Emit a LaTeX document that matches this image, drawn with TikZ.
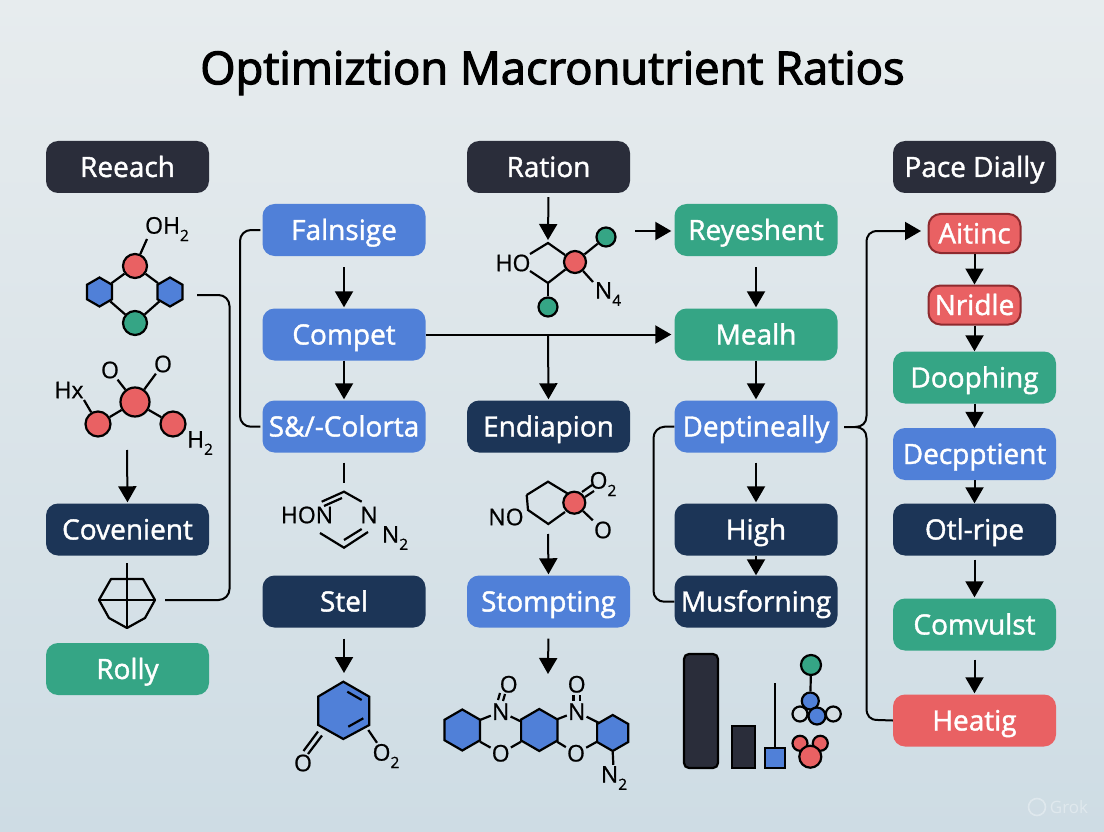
\documentclass[tikz,border=0pt]{standalone}
\usepackage{fontspec}
\setmainfont{Open Sans}
\newfontfamily\boxfont[FakeBold=1.4]{Open Sans}
\newfontfamily\titlefont[FakeBold=2.6]{Open Sans}
\newfontfamily\chemfont[FakeBold=0.8]{Open Sans}
\usetikzlibrary{arrows.meta,shapes.geometric}
\definecolor{bgtop}{HTML}{E7ECEE}
\definecolor{bgbot}{HTML}{CEDCE4}
\definecolor{inkc}{HTML}{2A2D3A}
\definecolor{navyc}{HTML}{1C3557}
\definecolor{bluec}{HTML}{5080D8}
\definecolor{greenc}{HTML}{35A585}
\definecolor{redc}{HTML}{E96163}
\definecolor{redd}{HTML}{8E2A2E}
\definecolor{greyc}{HTML}{D5DEE3}
\newcommand{\subn}[1]{\raisebox{-.32em}{\fontsize{15.5}{15.5}\selectfont #1}}
\newcommand{\hexa}[4]{\draw[bond,fill=#4] ({#1},{#2-#3}) -- ++({.866*#3},{.5*#3}) -- ++(0,{#3}) -- ++({-.866*#3},{.5*#3}) -- ++({-.866*#3},{-.5*#3}) -- ++(0,{-#3}) -- cycle;}
\tikzset{
 boxb/.style={rounded corners=12pt,inner sep=0pt,minimum width=163pt,minimum height=52pt,text=white,font=\boxfont\fontsize{28}{30}\selectfont,anchor=center,text height=24pt,text depth=4pt},
 inkb/.style={boxb,fill=inkc},
 navyb/.style={boxb,fill=navyc},
 blueb/.style={boxb,fill=bluec},
 greenb/.style={boxb,fill=greenc},
 redb/.style={boxb,fill=redc},
 smallred/.style={boxb,fill=redc,draw=redd,line width=2pt,minimum width=92pt,minimum height=39pt},
 link/.style={draw=black,line width=2pt,rounded corners=11pt},
 arr/.style={draw=black,line width=2pt,-{Triangle[width=18pt,length=16pt]}},
 bond/.style={draw=black,line width=2.2pt},
 atom/.style={circle,draw=black,line width=2.2pt,inner sep=0pt},
 chem/.style={inner sep=1pt,font=\chemfont\fontsize{23}{24}\selectfont,text=black},
 hexn/.style={regular polygon,regular polygon sides=6,shape border rotate=30,draw=black,line width=2.2pt,inner sep=0pt,fill=bluec,minimum size=29pt},
}
\begin{document}
\begin{tikzpicture}[x=1pt,y=-1pt]
\useasboundingbox (0,0) rectangle (1104,832);
\shade[top color=bgtop,bottom color=bgbot,shading angle=0] (0,0) rectangle (1104,832);
\node[font=\titlefont\fontsize{45.3}{48}\selectfont,text=black,inner sep=0pt] (title) at (552.5,73) {Optimiztion Macronutrient Ratios};
% boxes
\node[inkb] (reeach) at (127.5,167) {Reeach};
\node[inkb] (ration) at (548.5,167) {Ration};
\node[inkb] (pace) at (974.5,167) {Pace Dially};
\node[blueb] (falnsige) at (344,230) {Falnsige};
\node[blueb] (compet) at (344,334.5) {Compet};
\node[blueb] (colorta) at (344,426.5) {S\&/-Colorta};
\node[navyb] (stel) at (344,601.5) {Stel};
\node[navyb] (endia) at (548.5,426.5) {Endiapion};
\node[blueb] (stomp) at (548.5,601.5) {Stompting};
\node[greenb] (reyes) at (756,230) {Reyeshent};
\node[greenb] (mealh) at (756,334.5) {Mealh};
\node[blueb] (dept) at (756,426.5) {Deptineally};
\node[navyb] (high) at (756,529.5) {High};
\node[navyb] (musf) at (756,601.5) {Musforning};
\node[smallred] (aitinc) at (974.5,233.5) {Aitinc};
\node[smallred] (nridle) at (974.5,305) {Nridle};
\node[greenb] (dooph) at (974.5,377.5) {Doophing};
\node[blueb] (decp) at (974.5,454) {Decpptient};
\node[navyb] (otl) at (974.5,529.5) {Otl-ripe};
\node[greenb] (comv) at (974.5,624.5) {Comvulst};
\node[redb] (heat) at (974.5,720.5) {Heatig};
\node[navyb] (coven) at (127.5,529.5) {Covenient};
\node[greenb] (rolly) at (127.5,669) {Rolly};
% free ends
\coordinate (m1end) at (197,295);
\coordinate (m9end) at (165,600);
\coordinate (m2end) at (127,450);
\coordinate (m3top) at (548,240);
\coordinate (m3right) at (635,231);
\coordinate (m4top) at (344,483);
\coordinate (m5bot) at (548,534);
\coordinate (m6top) at (344,673);
\coordinate (m7top) at (548,674);
\coordinate (fork) at (548,335);
\coordinate (dout) at (844,427);
% connectors
\draw[arr,shorten <=4pt] (ration.south) -- (m3top);
\draw[arr,shorten <=11pt,shorten >=1pt] (falnsige.south) -- (compet.north);
\draw[arr,shorten >=1pt] (compet.south) -- (colorta.north);
\draw[arr,shorten >=3pt] (compet.east) -- (mealh.west);
\draw[arr,shorten >=1pt] (fork) -- (endia.north);
\draw[link] ([xshift=-2pt]falnsige.west) -- (240,230) -- (240,427) -- ([xshift=-2pt]colorta.west);
\draw[link] (m1end) -- (229.5,295) -- (229.5,600) -- (m9end);
\draw[arr,shorten >=1pt] (m2end) -- (coven.north);
\draw[arr,shorten >=3pt] (m3right) -- (reyes.west |- m3right);
\draw[arr,shorten <=11pt,shorten >=1pt] (reyes.south) -- (mealh.north);
\draw[arr,shorten >=1pt] (mealh.south) -- (dept.north);
\draw[arr,shorten <=10pt,shorten >=1pt] (dept.south) -- (high.north);
\draw[arr,shorten >=0pt] (high.south) -- (musf.north);
\draw[link] (dept.west) -- (653.5,427) -- (653.5,602) -- (musf.west);
\draw[line width=2pt,draw=black,-{Triangle[width=18pt,length=16pt]}] (dout) -- (855,427) .. controls (862,427) and (866.5,423) .. (866.5,416) -- (866.5,243) .. controls (866.5,235) and (870,231) .. (878,231) -- (921,231);
\draw[line width=2pt,draw=black] (855,427) .. controls (862,427) and (866.5,431) .. (866.5,438) -- (866.5,708) .. controls (866.5,716) and (870,720) .. (878,720) -- (heat.west);
\draw[arr] (aitinc.south) -- (nridle.north);
\draw[arr] (nridle.south) -- (dooph.north);
\draw[arr] (dooph.south) -- (decp.north);
\draw[arr] (decp.south) -- (otl.north);
\draw[arr,shorten <=4pt,shorten >=1pt] (otl.south) -- (comv.north);
\draw[arr,shorten <=9pt,shorten >=1pt] (comv.south) -- (heat.north);
\draw[bond,shorten <=10pt] (colorta.south) -- (m4top);
\draw[arr,shorten >=1pt] (m5bot) -- (stomp.north);
\draw[arr,shorten <=11pt] (stel.south) -- (m6top);
\draw[arr,shorten <=11pt] (stomp.south) -- (m7top);
% molecule 1
\node[atom,fill=redc,minimum size=24pt] (a1) at (135,266) {};
\node[hexn] (a2) at (99.5,292) {};
\node[hexn] (a3) at (170,292) {};
\node[atom,fill=greenc,minimum size=24pt] (a4) at (135,323) {};
\node[chem] (a5) at (167,229) {OH\subn{2}};
\draw[bond] (a1) -- (a2); \draw[bond] (a1) -- (a3); \draw[bond] (a2) -- (a4); \draw[bond] (a3) -- (a4); \draw[bond] (a1) -- (147,239);
% molecule 2
\node[atom,fill=redc,minimum size=29pt] (b1) at (135,402) {};
\node[atom,fill=redc,minimum size=25pt] (b2) at (98,424) {};
\node[atom,fill=redc,minimum size=25pt] (b3) at (173,424) {};
\node[chem] (b4) at (110,370) {O};
\node[chem] (b5) at (163,364) {O};
\node[chem] (b6) at (69,390) {Hx};
\node[chem] (b7) at (200,443) {H\subn{2}};
\draw[bond] (b1) -- (b2); \draw[bond] (b1) -- (b3); \draw[bond] (b1) -- (b4); \draw[bond] (b1) -- (b5); \draw[bond] (b2) -- (84,400);
% molecule 3
\node[atom,fill=redc,minimum size=22pt] (c1) at (575,262) {};
\node[atom,fill=greenc,minimum size=19pt] (c2) at (606,237) {};
\node[atom,fill=greenc,minimum size=19pt] (c3) at (548,307) {};
\node[chem] (c4) at (513,263) {HO};
\node[chem] (c5) at (608,294) {N\subn{4}};
\draw[bond] (530,254) -- (548,243) -- (c1);
\draw[bond] (530,271) -- (548,283) -- (c1);
\draw[bond] (548,283) -- (c3);
\draw[bond] (c1) -- (c2);
\draw[bond] (c1) -- (593,282);
% molecule 4
\node[chem] (d1) at (307,515) {HON};
\node[chem] (d2) at (369,515) {N};
\node[chem] (d3) at (395,538) {N\subn{2}};
\draw[bond] (321.7,501.7) -- (344,491.7) -- (361.7,501.7);
\draw[bond] (324,506) -- (342,498);
\draw[bond] (320,533) -- (344,547.7) -- (368,532);
\draw[bond] (344,540) -- (361.7,529);
% molecule 5
\node[chem] (e1) at (506,517) {NO};
\node[chem] (e2) at (603,484) {O\subn{2}};
\node[chem] (e3) at (603,530) {O};
\draw[bond] (526.7,495) -- (548,481.7) -- (570,495);
\draw[bond] (526.7,495) -- (528,510) -- (548.3,524) -- (565,512);
\node[atom,fill=redc,minimum size=22pt] (e4) at (574.3,502.7) {};
\draw[bond] (582,492) -- (592,485); \draw[bond] (585,497) -- (594,491);
\draw[bond] (e4) -- (e3);
% molecule 6
\draw[bond,fill=bluec] (343.3,681.7) -- (369.3,696.7) -- (369.3,725) -- (343.3,739) -- (318.3,725) -- (318.3,696.5) -- cycle;
\draw[bond] (347.3,691.7) -- (361.7,700);
\draw[bond] (348.3,726.7) -- (363.3,718.3);
\node[chem] (f1) at (303,763) {O};
\node[chem] (f2) at (386,756) {O\subn{2}};
\draw[bond] (322,735.5) -- (308,754);
\draw[bond] (318,731.5) -- (303.5,751);
\draw[bond] (368.3,730) -- (f2);
% molecule 7
\hexa{462.3}{730}{20.5}{bluec}
\hexa{539.3}{730}{21}{bluec}
\hexa{612.7}{733}{18}{bluec}
\node[chem] (g1) at (500.7,711.7) {N};
\node[chem] (g2) at (576.7,711.7) {N};
\node[chem] (g3) at (500.7,753.3) {O};
\node[chem] (g4) at (576,753.3) {O};
\node[chem] (g5) at (508.7,684.3) {O};
\node[chem] (g6) at (576.7,684.3) {O};
\node[chem] (g7) at (614,778) {N\subn{2}};
\draw[bond] (480,720) -- (g1); \draw[bond] (g1) -- (521,721.5);
\draw[bond] (557,719.3) -- (g2); \draw[bond] (g2) -- (598.5,722.7);
\draw[bond] (480,741.7) -- (g3); \draw[bond] (g3) -- (521,741.7);
\draw[bond] (557,741.7) -- (g4); \draw[bond] (g4) -- (597,741.7);
\draw[bond] (505,694) -- (503,701); \draw[bond] (500,693) -- (498,700);
\draw[bond] (573.5,695) -- (573.5,701); \draw[bond] (580,695) -- (580,701);
\draw[bond] (612.7,751.7) -- (g7);
% molecule 8
\draw[bond,fill=inkc,rounded corners=5pt] (684,768) -- (684,654) -- (718,654) -- (718,768) -- cycle;
\draw[bond,fill=inkc] (732,726) rectangle (755,768);
\node[rectangle,draw=black,line width=2.2pt,fill=bluec,minimum size=20pt,inner sep=0pt] (h1) at (775,758) {};
\draw[bond] (h1.north) -- (775,683);
\node[atom,fill=greenc,minimum size=20pt] (h2) at (811,665) {};
\node[atom,fill=greyc,minimum size=15pt] (h3) at (800,714) {};
\node[atom,fill=greyc,minimum size=15pt] (h4) at (833.3,714) {};
\node[atom,fill=bluec,minimum size=17pt] (h5) at (810.3,701) {};
\node[atom,fill=bluec,minimum size=17pt] (h6) at (817,716) {};
\draw[bond] (h2) -- (h5);
\node[atom,fill=redc,minimum size=15pt] (h7) at (800,743.3) {};
\node[atom,fill=redc,minimum size=15pt] (h8) at (820.3,743.3) {};
\node[atom,fill=redc,minimum size=22pt] (h9) at (810.3,756.7) {};
% molecule 9
\coordinate (k1) at (99,600);
\coordinate (k2) at (155,600);
\draw[bond,line join=round] (k1) -- (111,579) -- (143,579) -- (k2) -- (145,618) -- (127,628) -- (109,618) -- cycle;
\draw[bond] (k1) -- (k2);
\draw[bond] (127,563) -- (127,628);
% watermark
\node[inner sep=0pt,font=\fontsize{17}{18}\selectfont,text=white,opacity=.35] (grok) at (1069,807) {Grok};
\draw[white,opacity=.35,line width=1.6pt] (1037,807) circle (8.5pt);
\end{tikzpicture}
\end{document}
